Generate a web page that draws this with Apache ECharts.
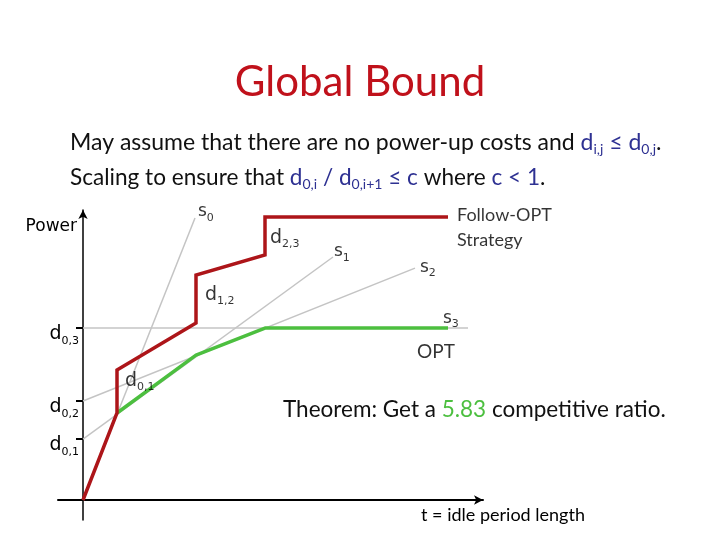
<!DOCTYPE html>
<html>
<head>
<meta charset="utf-8">
<script src="https://cdn.jsdelivr.net/npm/echarts@6/dist/echarts.min.js"></script>
<style>
  html, body { margin: 0; padding: 0; background: #fff; }
  #chart { width: 720px; height: 540px; }
</style>
</head>
<body>
<div id="chart"></div>
<script>
// Follow-OPT strategy (red) and OPT lower envelope (green), x = idle time, y = power cost
const followOpt = [[0, 0], [8.5, 29], [8.5, 43.3], [28.25, 59], [28.25, 75], [45.5, 81.7], [45.5, 94.3], [91.25, 94.3]];
const optLine = [[8.5, 29], [28.25, 48.3], [45.5, 57.3], [91.25, 57.3]];
// power-down states: start value (d0,i) and end point of each line
const stateNames = ['0', '1', '2', '3'];
const stateStart = [0, 20.3, 33, 57.3];
const stateEnd = [[28, 94], [62.5, 81], [83, 77.3], [96.25, 57.3]];
// tick values on the power axis and their subscripts
const d0Ticks = [20.3, 33, 57.3];
const d0Subs = ['0,1', '0,2', '0,3'];
// step labels placed at top of each red vertical jump
const stepSubs = ['0,1', '1,2', '2,3'];
const stepIdx = [2, 4, 6];

const BLUE = '#2e3192';
const RED = '#ad1519';
const GREEN = '#4cbf3f';
const GRAY = '#c4c4c4';
const SLIDE = 'Lato, "DejaVu Sans", sans-serif';
const DIAG = '"DejaVu Sans", Verdana, sans-serif';

const subRich = {
  m: { fontFamily: DIAG, fontSize: 17, color: '#000' },
  s: { fontFamily: DIAG, fontSize: 11, color: '#000', padding: [12, 0, 0, 0] }
};

let stateSeries = stateNames.map((n, i) => ({
  type: 'line',
  silent: true,
  symbol: 'none',
  z: 1,
  lineStyle: { color: GRAY, width: 1.5 },
  data: [[0, stateStart[i]], stateEnd[i]]
}));

const stateLabelOffset = [[-2, -6], [-4, -5], [0, -1], [-30, -10]];
const notes = [];
stateNames.forEach((n, i) => {
  notes.push({
    value: stateEnd[i],
    label: { formatter: '{m|s}{s|' + n + '}', offset: stateLabelOffset[i] }
  });
});
const stepOffset = [[3, 11], [4, 20], [0, 21]];
stepSubs.forEach((s, i) => {
  notes.push({
    value: followOpt[stepIdx[i]],
    label: { formatter: '{m|d}{s|' + s + '}', offset: stepOffset[i], rich: {
      m: { fontFamily: DIAG, fontSize: 19, color: '#000' },
      s: { fontFamily: DIAG, fontSize: 11, color: '#000', padding: [12, 0, 0, 0] }
    } }
  });
});
notes.push({
  value: followOpt[followOpt.length - 1],
  label: { formatter: 'Follow-OPT\nStrategy', offset: [4, 11], fontFamily: SLIDE, fontSize: 18, lineHeight: 25, color: '#000' }
});
notes.push({
  value: optLine[optLine.length - 1],
  label: { formatter: 'OPT', position: 'bottom', offset: [-12, 9], fontFamily: SLIDE, fontSize: 19, color: '#000' }
});

function paraRich(size) {
  return {
    b: { fontFamily: SLIDE, fontSize: size, color: BLUE },
    bs: { fontFamily: SLIDE, fontSize: 14, color: BLUE, padding: [12, 0, 0, 0] }
  };
}

const option = {
  animation: false,
  backgroundColor: '#fff',
  title: [
    {
      text: 'Global Bound', left: 'center', top: 56,
      textStyle: { fontFamily: SLIDE, fontSize: 42, fontWeight: 'normal', color: '#c0111b' }
    },
    {
      text: 'May assume that there are no power-up costs and {b|d}{bs|i,j}{b| ≤ d}{bs|0,j}.',
      left: 70, top: 130, padding: 0,
      textStyle: { fontFamily: SLIDE, fontSize: 23, fontWeight: 'normal', color: '#111', rich: paraRich(23) }
    },
    {
      text: 'Scaling to ensure that {b|d}{bs|0,i}{b| / d}{bs|0,i+1}{b| ≤ c} where {b|c < 1}.',
      left: 70, top: 165, padding: 0,
      textStyle: { fontFamily: SLIDE, fontSize: 22.6, fontWeight: 'normal', color: '#111', rich: paraRich(22.6) }
    },
    {
      text: 'Theorem: Get a {g|5.83} competitive ratio.',
      left: 283, top: 398, padding: 0,
      textStyle: {
        fontFamily: SLIDE, fontSize: 22.5, fontWeight: 'normal', color: '#111',
        rich: { g: { fontFamily: SLIDE, fontSize: 22.5, color: GREEN } }
      }
    }
  ],
  grid: { left: 58, right: 237, top: 210, bottom: 20 },
  xAxis: {
    type: 'value', min: -6.25, max: 100,
    splitLine: { show: false },
    axisTick: { show: false },
    axisLabel: { show: false },
    axisLine: { onZero: true, symbol: ['none', 'arrow'], symbolSize: [7, 9], lineStyle: { color: '#000', width: 2 } },
    name: 't = idle period length',
    nameLocation: 'end',
    nameGap: 20,
    nameTextStyle: { fontFamily: SLIDE, fontSize: 18, color: '#000', align: 'center', verticalAlign: 'top', padding: [6, 0, 0, 0] }
  },
  yAxis: {
    type: 'value', min: -20 / 3, max: 290 / 3,
    splitLine: { show: false },
    axisLine: { onZero: true, symbol: ['none', 'arrow'], symbolSize: [7, 9], lineStyle: { color: '#000', width: 1.5 } },
    axisTick: { show: true, customValues: d0Ticks, length: 7, lineStyle: { color: '#000', width: 2 } },
    axisLabel: {
      show: true, customValues: d0Ticks, margin: -21,
      formatter: (v) => '{m|d}{s|' + d0Subs[d0Ticks.indexOf(v)] + '}',
      rich: {
        m: { fontFamily: DIAG, fontSize: 19, color: '#000', padding: [12, 0, 0, 0] },
        s: { fontFamily: DIAG, fontSize: 11, color: '#000', padding: [26, 0, 0, 0] }
      }
    },
    name: 'Power',
    nameLocation: 'end',
    nameGap: -8,
    nameTextStyle: { fontFamily: DIAG, fontSize: 17, color: '#000', align: 'right', verticalAlign: 'top', padding: [0, 6, 0, 0] }
  },
  series: stateSeries.concat([
    {
      name: 'OPT', type: 'line', silent: true, symbol: 'none', z: 3,
      lineStyle: { color: GREEN, width: 3.5 }, data: optLine
    },
    {
      name: 'Follow-OPT', type: 'line', silent: true, symbol: 'none', z: 4,
      lineStyle: { color: RED, width: 3.5, join: 'miter' }, data: followOpt
    },
    {
      name: 'notes', type: 'scatter', silent: true, symbolSize: 0, z: 5,
      label: { show: true, position: 'right', distance: 5, rich: subRich },
      data: notes
    }
  ])
};

let myChart = echarts.init(document.getElementById('chart'));
myChart.setOption(option);
</script>
</body>
</html>
